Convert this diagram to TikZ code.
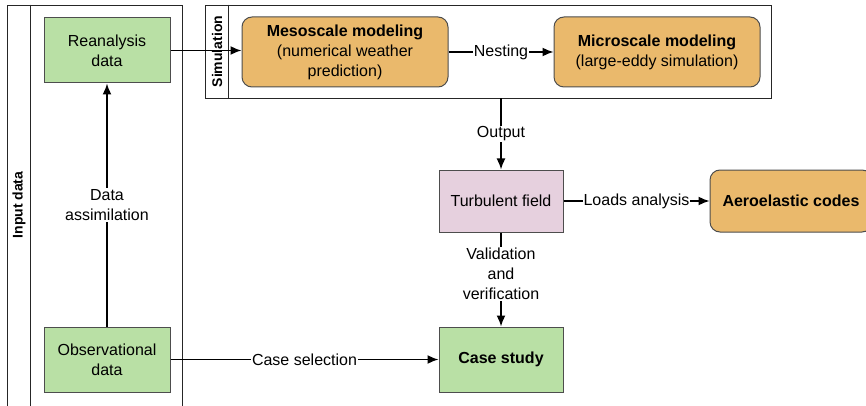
\documentclass[tikz,border=0pt]{standalone}
\usepackage{fontspec}
\setmainfont{Liberation Sans}
\usetikzlibrary{arrows.meta}
\definecolor{obsgreen}{HTML}{B9E0A5}
\definecolor{modorange}{HTML}{EAB96C}
\definecolor{fieldpink}{HTML}{E6D0DE}
\definecolor{edgegray}{HTML}{4D4D4D}
\begin{document}
\begin{tikzpicture}[x=1pt, y=-1pt,
  every node/.style={font=\fontsize{16}{20}\selectfont},
  pool/.style={draw=black!85, line width=0.9pt, inner sep=0pt},
  pooltitle/.style={rotate=90, font=\fontsize{14}{17}\selectfont\bfseries},
  databox/.style={draw=edgegray, line width=1pt, fill=obsgreen, minimum width=126pt, minimum height=65pt, align=center, inner sep=2pt},
  modbox/.style={draw=edgegray, line width=1pt, fill=modorange, rounded corners=10pt, minimum width=206pt, minimum height=70pt, align=center, inner sep=2pt},
  fieldbox/.style={draw=edgegray, line width=1pt, fill=fieldpink, minimum width=124pt, minimum height=62pt, align=center, inner sep=2pt},
  flow/.style={line width=1.6pt, -{Latex[length=11pt,width=9pt]}},
  lbl/.style={fill=white, inner sep=1pt, align=center}]
\useasboundingbox (0,0) rectangle (866,406);

\node[pool, minimum width=175pt, minimum height=415pt] (inpool) at (94.5,212.5) {};
\draw[black!85, line width=0.9pt] ([xshift=24pt]inpool.north west) -- ([xshift=24pt]inpool.south west);
\node[pooltitle] (inlbl) at (19,205) {Input data};

\node[pool, minimum width=566pt, minimum height=93pt] (sim) at (488,51.5) {};
\draw[black!85, line width=0.9pt] ([xshift=24pt]sim.north west) -- ([xshift=24pt]sim.south west);
\node[pooltitle] (simlbl) at (217,51.5) {Simulation};

\node[databox] (rean) at (107,50.5) {Reanalysis\\data};
\node[databox] (obs) at (107,359.5) {Observational\\data};

\node[modbox] (meso) at (345,52) {\textbf{Mesoscale modeling}\\(numerical weather\\prediction)};
\node[modbox] (micro) at (657,52) {\textbf{Microscale modeling}\\(large-eddy simulation)};

\node[fieldbox] (turb) at (501,201) {Turbulent field};
\node[modbox, minimum width=162pt, minimum height=62pt] (aero) at (791,201) {\textbf{Aeroelastic codes}};
\node[databox, minimum width=124pt] (case) at (501,359.5) {\textbf{Case study}};

\draw[flow] (rean.east) -- (meso.west |- rean.east);
\draw[flow] (meso) -- node[lbl] {Nesting} (micro);
\draw[flow] (obs) -- node[lbl] {Data\\assimilation} (rean);
\draw[flow] (sim.south -| turb.north) -- node[lbl] {Output} (turb);
\draw[flow] (turb) -- node[lbl] {Loads analysis} (aero);
\draw[flow] (turb) -- node[lbl, pos=0.44] {Validation\\and\\verification} (case);
\draw[flow] (obs) -- node[lbl] {Case selection} (case);
\end{tikzpicture}
\end{document}
